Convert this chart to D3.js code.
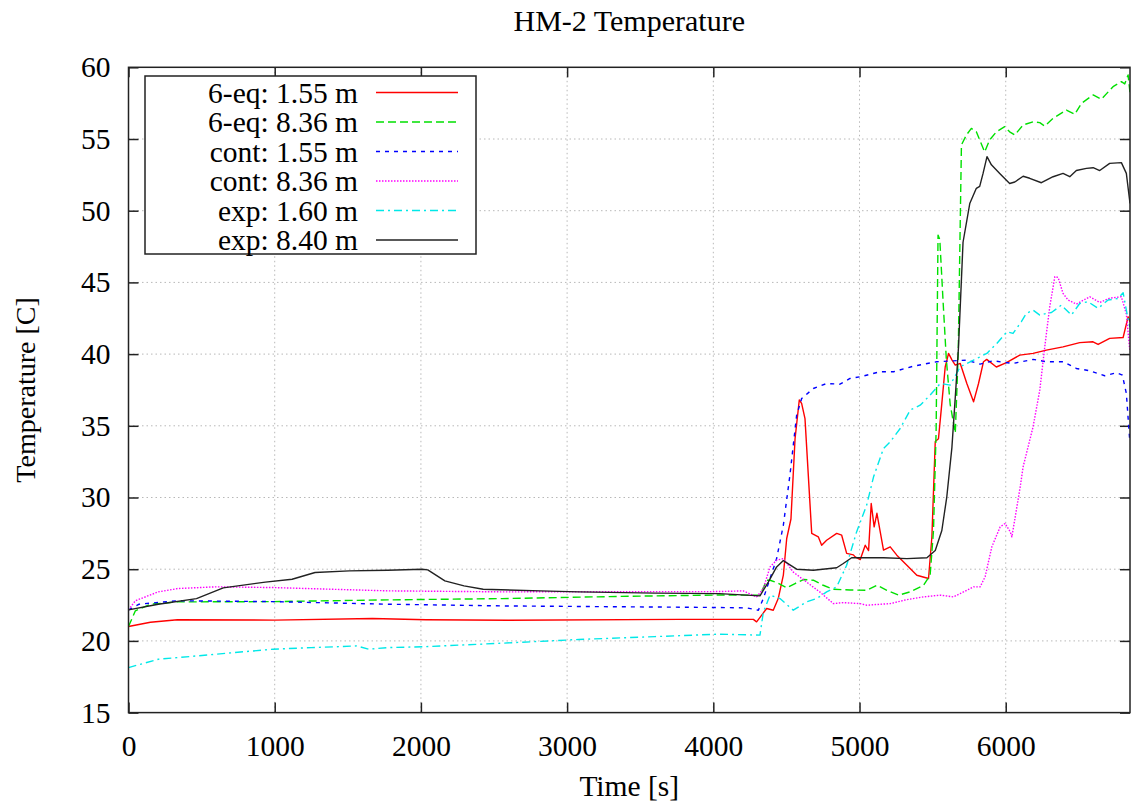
<!DOCTYPE html>
<html>
<head>
<meta charset="utf-8">
<script src="https://cdn.jsdelivr.net/npm/d3@7"></script>
<style>
  body { margin: 0; background: #fff; }
  svg { display: block; font-family: "Liberation Serif", "Times New Roman", serif; }
  .grid line { stroke: #b8b8b8; stroke-width: 1; stroke-dasharray: 1.5,3; }
  text.tick-label { font-family: "Liberation Serif", "Times New Roman", serif; font-size: 29.5px; fill: #000; }
  .series { fill: none; stroke-width: 1.4; stroke-linejoin: round; }
</style>
</head>
<body>
<main></main>
<script>
// time [s], temperature [C]
const eq155 = [[0,21.0],[150,21.3],[335,21.47],[1000,21.45],[1668,21.56],[2034,21.47],[2600,21.44],[3772,21.5],[4274,21.5],[4296,21.33],[4365,22.26],[4410,22.14],[4444,22.95],[4479,24.58],[4502,27.14],[4531,28.5],[4559,34.1],[4588,36.8],[4604,36.56],[4627,35.5],[4673,27.5],[4718,27.26],[4741,26.67],[4775,27.02],[4844,27.5],[4878,27.37],[4912,26.1],[4958,26.0],[4970,25.86],[5005,25.67],[5039,26.67],[5062,26.3],[5080,29.58],[5100,27.95],[5119,28.9],[5164,26.33],[5210,26.56],[5255,25.98],[5324,25.28],[5392,24.58],[5472,24.35],[5495,27.26],[5518,33.9],[5540,34.1],[5563,36.56],[5586,39.1],[5609,40.05],[5632,39.6],[5655,39.23],[5689,39.35],[5734,37.95],[5780,36.67],[5814,37.95],[5848,39.47],[5870,39.63],[5936,39.1],[6005,39.4],[6096,39.93],[6187,40.05],[6278,40.28],[6392,40.5],[6506,40.8],[6597,40.86],[6632,40.67],[6711,41.1],[6803,41.16],[6837,42.6],[6850,42.26]];

const eq836 = [[0,21.0],[47,22.1],[152,22.56],[335,22.72],[988,22.74],[1772,22.86],[2556,22.95],[3341,23.1],[4041,23.2],[4319,23.19],[4365,24.23],[4388,24.23],[4433,24.07],[4502,23.7],[4559,24.0],[4616,24.28],[4684,24.23],[4752,23.88],[4821,23.6],[4935,23.55],[5050,23.53],[5119,23.88],[5187,23.53],[5267,23.19],[5347,23.42],[5438,23.88],[5483,24.58],[5506,27.7],[5524,34.7],[5537,48.3],[5549,48.0],[5571,43.77],[5594,39.6],[5620,36.5],[5655,34.5],[5675,40],[5697,54.58],[5731,55.28],[5765,55.74],[5799,55.5],[5822,54.93],[5856,54.1],[5890,54.93],[5936,55.5],[5993,55.86],[6027,55.5],[6062,55.28],[6119,55.98],[6187,56.2],[6233,56.14],[6267,55.9],[6324,56.44],[6415,57.02],[6472,56.72],[6518,57.49],[6598,58.07],[6654,57.77],[6734,58.65],[6791,59.0],[6814,58.84],[6837,59.47],[6850,58.2]];

const cont155 = [[0,22.16],[73,22.56],[335,22.8],[988,22.74],[1772,22.56],[2556,22.44],[4041,22.33],[4228,22.3],[4308,22.14],[4342,22.95],[4388,24.35],[4433,25.74],[4479,28.07],[4524,31.56],[4570,35.74],[4604,36.9],[4684,37.6],[4775,37.95],[4866,37.9],[4935,38.3],[5005,38.42],[5141,38.77],[5233,38.77],[5369,39.16],[5529,39.47],[5643,39.53],[5734,39.58],[5825,39.3],[5913,39.53],[6050,39.35],[6187,39.63],[6278,39.47],[6392,39.47],[6483,39.0],[6575,38.84],[6677,38.49],[6757,38.7],[6798,38.53],[6825,37.26],[6848,34.0]];

const cont836 = [[0,22.16],[47,22.8],[204,23.42],[335,23.65],[596,23.77],[988,23.72],[1772,23.49],[2556,23.42],[4041,23.44],[4205,23.49],[4296,23.07],[4342,23.65],[4388,25.16],[4433,25.63],[4479,25.74],[4547,24.8],[4638,24.1],[4730,23.4],[4821,22.6],[4889,22.67],[5003,22.6],[5050,22.49],[5210,22.6],[5324,22.88],[5438,23.07],[5552,23.19],[5643,23.07],[5734,23.53],[5780,23.77],[5825,23.77],[5859,24.47],[5905,26.56],[5962,27.95],[5996,28.19],[6031,27.6],[6042,27.26],[6065,28.65],[6099,30.74],[6119,32.14],[6187,34.93],[6233,37.49],[6267,40.51],[6301,43.3],[6336,45.4],[6358,45.35],[6392,44.23],[6427,43.77],[6483,43.49],[6575,44.0],[6643,43.6],[6711,43.9],[6791,44.0],[6825,42.8],[6848,40.3]];

const exp160 = [[0,18.14],[204,18.72],[465,18.95],[727,19.19],[988,19.42],[1250,19.53],[1563,19.65],[1642,19.42],[1772,19.53],[2034,19.6],[2556,19.84],[3079,20.1],[3602,20.3],[4041,20.47],[4319,20.4],[4342,22.0],[4388,23.19],[4456,22.95],[4547,22.14],[4638,22.72],[4707,22.95],[4775,23.42],[4844,23.77],[4912,25.28],[4980,27.6],[5049,29.47],[5096,31.44],[5164,33.42],[5210,33.88],[5278,34.81],[5347,36.1],[5415,36.44],[5483,37.14],[5552,37.95],[5620,37.84],[5689,39.12],[5780,39.58],[5871,40.05],[5939,40.74],[6008,41.56],[6050,41.44],[6107,42.26],[6141,42.84],[6187,43.07],[6233,42.72],[6278,42.84],[6313,42.9],[6381,43.42],[6449,42.72],[6506,43.53],[6563,43.65],[6632,43.19],[6700,43.77],[6768,43.88],[6803,44.28],[6825,43.07],[6848,41.9]];

const exp840 = [[0,22.16],[204,22.56],[465,22.95],[648,23.7],[936,24.1],[1119,24.3],[1276,24.77],[1511,24.88],[1772,24.93],[2008,25.0],[2047,24.95],[2164,24.19],[2295,23.84],[2426,23.6],[2818,23.49],[3079,23.42],[3602,23.33],[4041,23.3],[4319,23.14],[4376,24.1],[4433,25.16],[4479,25.6],[4524,25.3],[4570,25.0],[4684,24.93],[4844,25.1],[4889,25.4],[4946,25.8],[5164,25.8],[5324,25.74],[5461,25.8],[5518,26.3],[5563,27.7],[5597,30.05],[5632,33.5],[5655,37],[5677,40.5],[5708,47.8],[5754,50.5],[5799,51.56],[5822,51.7],[5845,52.6],[5872,53.77],[5902,53.2],[5959,52.6],[6027,51.9],[6062,52.0],[6119,52.4],[6164,52.26],[6244,51.95],[6324,52.37],[6392,52.6],[6438,52.37],[6483,52.8],[6552,52.95],[6598,53.0],[6643,52.8],[6711,53.3],[6791,53.35],[6825,52.6],[6850,50.5]];

const labels = ["6-eq: 1.55 m", "6-eq: 8.36 m", "cont: 1.55 m", "cont: 8.36 m", "exp: 1.60 m", "exp: 8.40 m"];
const xTicks = [0, 1000, 2000, 3000, 4000, 5000, 6000];
const yTicks = [15, 20, 25, 30, 35, 40, 45, 50, 55, 60];

const series = [
  {name: labels[0], data: eq155,   color: "#ff0000", dash: null},
  {name: labels[1], data: eq836,   color: "#00e000", dash: "8,4"},
  {name: labels[2], data: cont155, color: "#0000ff", dash: "4,5"},
  {name: labels[3], data: cont836, color: "#ff00ff", dash: "1.5,1.5"},
  {name: labels[4], data: exp160,  color: "#00e8e8", dash: "8,4,2,4"},
  {name: labels[5], data: exp840,  color: "#222222", dash: null}
];

const W = 1131, H = 803;
const margin = {top: 67.3, right: 1, bottom: 90.4, left: 128.5}
    , width = W - margin.left - margin.right
    , height = H - margin.top - margin.bottom;

const x = d3.scaleLinear().domain([0, 6850]).range([0, width]);
const y = d3.scaleLinear().domain([15, 60]).range([height, 0]);

const root = d3.select("main").append("svg")
    .attr("width", W)
    .attr("height", H);

root.append("text")
    .attr("x", margin.left + width / 2)
    .attr("y", 31)
    .attr("text-anchor", "middle")
    .style("font-size", "30px")
    .text("HM-2 Temperature");

const svg = root.append("g")
    .attr("transform", `translate(${margin.left}, ${margin.top})`);

// grid
svg.append("g").attr("class", "grid")
  .selectAll("line").data(xTicks.filter(d => d > 0))
  .enter().append("line")
    .attr("x1", d => x(d)).attr("x2", d => x(d))
    .attr("y1", 0).attr("y2", height);

svg.append("g").attr("class", "grid")
  .selectAll("line").data(yTicks.filter(d => d > 15 && d < 60))
  .enter().append("line")
    .attr("x1", 0).attr("x2", width)
    .attr("y1", d => y(d)).attr("y2", d => y(d));

// axes with inward ticks on all four sides
const axisStyle = g => {
  g.attr("font-family", null).attr("font-size", null);
  g.select(".domain").remove();
  g.selectAll(".tick line").attr("stroke", "#222").attr("stroke-width", 1.5);
  g.selectAll(".tick text").attr("class", "tick-label");
};

svg.append("g")
    .attr("transform", `translate(0, ${height})`)
    .call(d3.axisBottom(x).tickValues(xTicks).tickSizeInner(-10).tickPadding(22).tickFormat(d3.format("d")))
    .call(axisStyle);

svg.append("g")
    .call(d3.axisTop(x).tickValues(xTicks).tickSizeInner(-10).tickFormat(""))
    .call(axisStyle);

svg.append("g")
    .call(d3.axisLeft(y).tickValues(yTicks).tickSizeInner(-10).tickPadding(18).tickFormat(d3.format("d")))
    .call(axisStyle);

svg.append("g")
    .attr("transform", `translate(${width}, 0)`)
    .call(d3.axisRight(y).tickValues(yTicks).tickSizeInner(-10).tickFormat(""))
    .call(axisStyle);

// curves
const line = d3.line()
    .x(d => x(d[0]))
    .y(d => y(d[1]));

svg.append("defs").append("clipPath").attr("id", "clip")
  .append("rect").attr("width", width).attr("height", height);

svg.append("g").attr("clip-path", "url(#clip)")
  .selectAll(".series").data(series)
  .enter().append("path")
    .attr("class", "series")
    .attr("d", d => line(d.data))
    .style("stroke", d => d.color)
    .style("stroke-dasharray", d => d.dash);

// frame
svg.append("rect")
    .attr("width", width)
    .attr("height", height)
    .attr("fill", "none")
    .attr("stroke", "#222")
    .attr("stroke-width", 1.5);

// axis titles
root.append("text")
    .attr("x", margin.left + width / 2)
    .attr("y", 796)
    .attr("text-anchor", "middle")
    .style("font-size", "29.5px")
    .text("Time [s]");

root.append("text")
    .attr("transform", `translate(35, ${margin.top + height / 2}) rotate(-90)`)
    .attr("text-anchor", "middle")
    .style("font-size", "28px")
    .text("Temperature [C]");

// legend
const legend = svg.append("g")
    .attr("transform", `translate(${145 - margin.left}, ${76 - margin.top})`);

legend.append("rect")
    .attr("width", 331)
    .attr("height", 178)
    .attr("fill", "#fff")
    .attr("stroke", "#222")
    .attr("stroke-width", 1.5);

const item = legend.selectAll(".legend")
    .data(series)
  .enter().append("g")
    .attr("class", "legend")
    .attr("transform", (d, i) => `translate(0, ${16.5 + i * 29.5})`);

item.append("text")
    .attr("x", 213)
    .attr("dy", "0.35em")
    .attr("text-anchor", "end")
    .style("font-size", "29.5px")
    .text(d => d.name);

item.append("line")
    .attr("x1", 231).attr("x2", 313)
    .attr("stroke", d => d.color)
    .attr("stroke-width", 1.4)
    .attr("stroke-dasharray", d => d.dash);
</script>
</body>
</html>
